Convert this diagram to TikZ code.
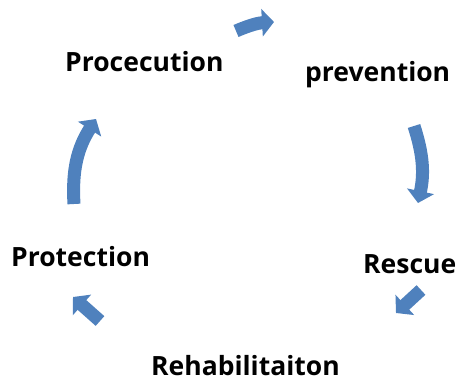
\documentclass[tikz,border=0pt]{standalone}
\usepackage{fontspec}
\setmainfont{Open Sans}
\usetikzlibrary{arrows.meta}

\definecolor{cycblue}{RGB}{79,129,189}

\begin{document}
\begin{tikzpicture}[
  x=1pt, y=-1pt,
  stage/.style={font=\fontsize{26.5}{32}\selectfont\bfseries, inner sep=0pt, text depth=0pt, anchor=base west},
  cyc/.style={draw=cycblue, line width=13pt, -{Triangle[length=12pt, width=27pt]}},
]
\useasboundingbox (0,0) rectangle (458,387);

% stages
\node[stage] (proc) at (65,72) {Procecution};
\node[stage] (prev) at (305,82) {prevention};
\node[stage] (resc) at (363,274) {Rescue};
\node[stage] (rehab) at (151,375) {Rehabilitaiton};
\node[stage] (prot) at (11,267) {Protection};

% arrow ends
\coordinate (a1) at (236,31);
\coordinate (b1) at (274,22);
\coordinate (a2) at (414,126);
\coordinate (b2) at (418,203);
\coordinate (a3) at (421,290);
\coordinate (b3) at (396,313);
\coordinate (a4) at (100,321);
\coordinate (b4) at (73,297);
\coordinate (a5) at (74,204);
\coordinate (b5) at (96,119);

\draw[cyc] (a1) to[bend left=10] (b1);
\draw[cyc] (a2) to[bend left=15] (b2);
\draw[cyc] (a3) -- (b3);
\draw[cyc] (a4) -- (b4);
\draw[cyc] (a5) to[bend left=18] (b5);

\end{tikzpicture}
\end{document}
